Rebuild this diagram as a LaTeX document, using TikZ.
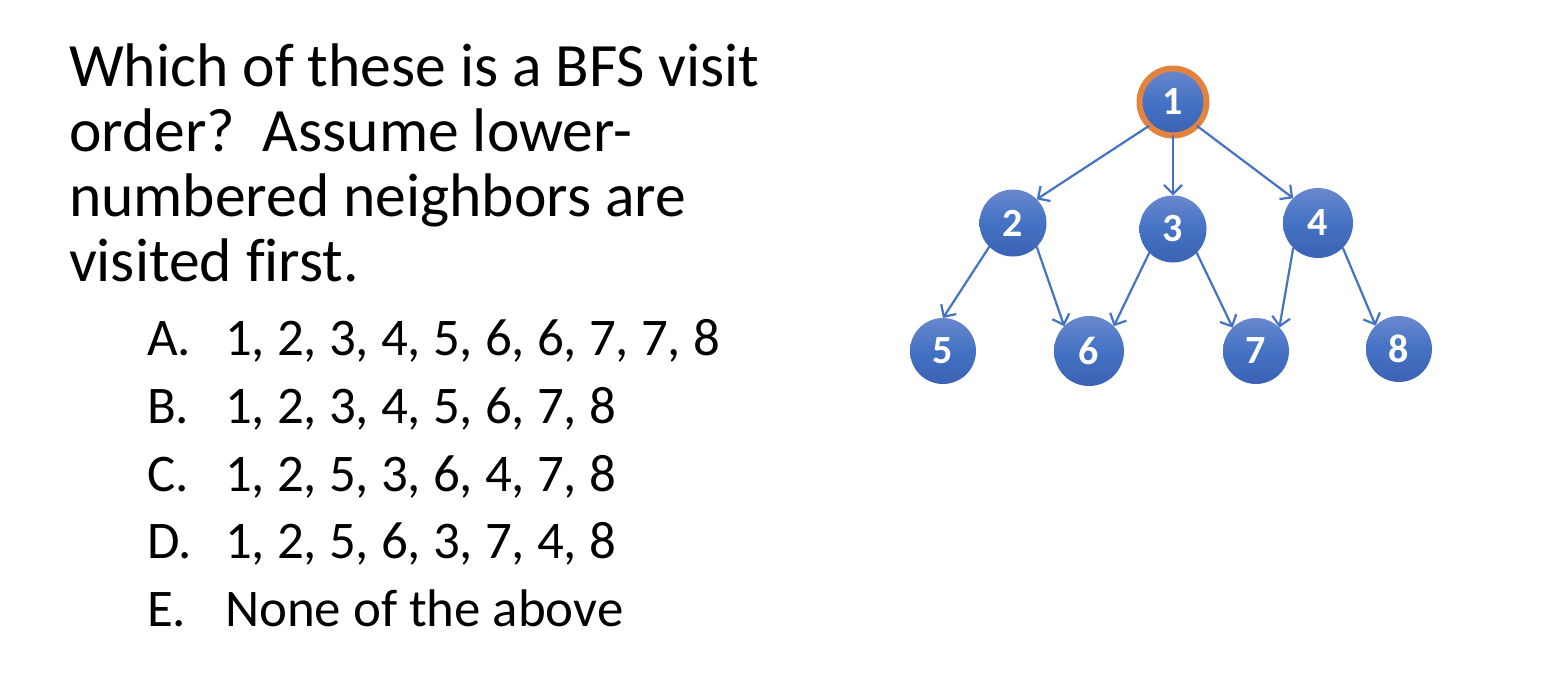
\documentclass[tikz,border=0pt]{standalone}
\usepackage{fontspec}
\setmainfont{Carlito}[Ligatures=CommonOff]
\usetikzlibrary{arrows.meta}
\definecolor{nodeblue}{RGB}{68,114,196}
\definecolor{nodetop}{RGB}{106,136,205}
\definecolor{nodebot}{RGB}{60,98,180}
\definecolor{ringorange}{RGB}{226,132,62}
\tikzset{
  vnode/.style={circle, inner sep=0pt, outer sep=0pt, minimum size=#1,
    top color=nodetop, bottom color=nodebot, middle color=nodeblue,
    text=white, font=\bfseries\fontsize{40}{40}\selectfont},
  vnode/.default=67pt,
  rootnode/.style={vnode=67pt, draw=ringorange, line width=6pt},
  edge/.style={draw=nodeblue, line width=2.2pt,
    -{Straight Barb[length=9pt,width=18pt,line width=2.2pt]}},
  qline/.style={anchor=base west, inner sep=0pt, outer sep=0pt,
    font=\fontsize{61.6}{61.6}\selectfont},
  oline/.style={anchor=base west, inner sep=0pt, outer sep=0pt,
    font=\fontsize{52.9}{52.9}\selectfont}
}
\begin{document}
\begin{tikzpicture}[x=1pt, y=-1pt]
\useasboundingbox (0,0) rectangle (1556,682);
% question text
\node[qline] (q1) at (69,86.5) {Which of these is a BFS visit};
\node[qline] (q2) at (69,151.5) {order?\ \ Assume lower-};
\node[qline] (q3) at (69,216.5) {numbered neighbors are};
\node[qline] (q4) at (69,281.5) {visited first.};
% options
\node[oline] (la) at (147,355) {A.};
\node[oline] (ta) at (225,355) {1, 2, 3, 4, 5, 6, 6, 7, 7, 8};
\node[oline] (lb) at (147,423) {B.};
\node[oline] (tb) at (225,423) {1, 2, 3, 4, 5, 6, 7, 8};
\node[oline] (lc) at (147,491) {C.};
\node[oline] (tc) at (225,491) {1, 2, 5, 3, 6, 4, 7, 8};
\node[oline] (ld) at (147,558.5) {D.};
\node[oline] (td) at (225,558.5) {1, 2, 5, 6, 3, 7, 4, 8};
\node[oline] (le) at (147,626.5) {E.};
\node[oline] (te) at (225,626.5) {None of the above};
% tree
\node[rootnode] (n1) at (1173,102) {1};
\node[vnode] (n2) at (1013,223) {2};
\node[vnode] (n3) at (1173,229) {3};
\node[vnode=70pt] (n4) at (1318,223) {4};
\node[vnode=66pt] (n5) at (943,351) {5};
\node[vnode=70pt] (n6) at (1089,351) {6};
\node[vnode=66pt] (n7) at (1256,351) {7};
\node[vnode=66pt] (n8) at (1399,349) {8};
\draw[edge] (n1.south west) -- (n2.north east);
\draw[edge] (n1.south) -- (n3.north);
\draw[edge] (n1.south east) -- (n4.north west);
\draw[edge] (n2.south west) -- (n5.north);
\draw[edge] (n2.south east) -- (n6.north west);
\draw[edge] (n3.south west) -- (n6.north east);
\draw[edge] (n3.south east) -- (n7.north west);
\draw[edge] (n4.south west) -- (n7.north east);
\draw[edge] (n4.south east) -- (n8.north west);
\end{tikzpicture}
\end{document}
